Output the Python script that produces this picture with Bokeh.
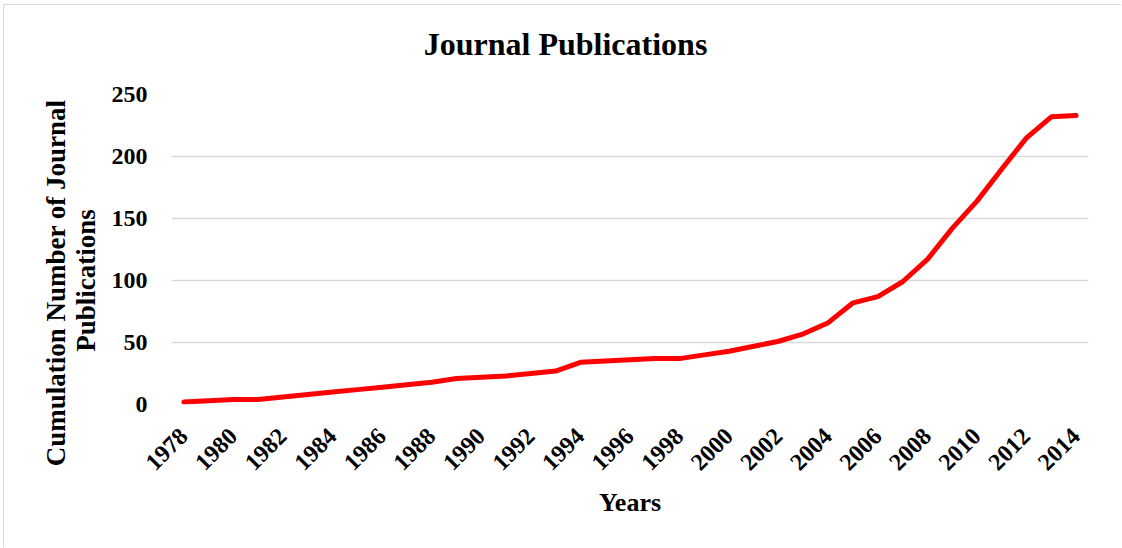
import math
from bokeh.plotting import figure
from bokeh.models import Range1d, FixedTicker, Label
from bokeh.embed import file_html
from bokeh.resources import INLINE

# ---- data ----
years = [1978, 1979, 1980, 1981, 1982, 1983, 1984, 1985, 1986, 1987,
         1988, 1989, 1990, 1991, 1992, 1993, 1994, 1995, 1996, 1997,
         1998, 1999, 2000, 2001, 2002, 2003, 2004, 2005, 2006, 2007,
         2008, 2009, 2010, 2011, 2012, 2013, 2014]
publications = [2, 3, 4, 4, 6, 8, 10, 12, 14, 16,
                18, 21, 22, 23, 25, 27, 34, 35, 36, 37,
                37, 40, 43, 47, 51, 57, 66, 82, 87, 99,
                117, 142, 164, 190, 215, 232, 233]
x_tick_years = [1978, 1980, 1982, 1984, 1986, 1988, 1990, 1992, 1994, 1996,
                1998, 2000, 2002, 2004, 2006, 2008, 2010, 2012, 2014]
y_ticks = [0, 50, 100, 150, 200, 250]

title_text = "Journal Publications"
x_title = "Years"
y_title_lines = ["Cumulation Number of Journal", "Publications"]

FONT = "Liberation Serif"

p = figure(width=1118, height=543, output_backend="svg", toolbar_location=None,
           x_range=Range1d(1977.5, 2014.5), y_range=Range1d(0, 250),
           min_border_left=167, min_border_right=34, min_border_top=89,
           min_border_bottom=144)
p.styles = {"margin-left": "3px", "margin-top": "4px",
            "border-left": "1px solid #d9d9d9", "border-top": "1px solid #d9d9d9"}
p.title.visible = False
p.outline_line_color = None
p.background_fill_color = "white"
p.border_fill_color = "white"

p.line(years, publications, line_color="#ff0000", line_width=5,
       line_cap="round", line_join="round")

p.xgrid.visible = False
p.ygrid.grid_line_color = "#d9d9d9"
p.ygrid.grid_line_width = 1.3

xa = p.xaxis[0]
xa.ticker = FixedTicker(ticks=x_tick_years)
xa.major_label_orientation = math.pi / 4
xa.major_label_text_font = FONT
xa.major_label_text_font_style = "bold"
xa.major_label_text_font_size = "24px"
xa.major_label_text_color = "black"
xa.major_tick_line_color = None
xa.minor_tick_line_color = None
xa.major_tick_in = 0
xa.major_tick_out = 0
xa.axis_line_color = None
xa.major_label_standoff = 28
xa.axis_label = x_title
xa.axis_label_text_font = FONT
xa.axis_label_text_font_style = "bold"
xa.axis_label_text_font_size = "26px"
xa.axis_label_text_color = "black"
xa.axis_label_standoff = 8

ya = p.yaxis[0]
ya.ticker = FixedTicker(ticks=y_ticks)
ya.major_label_text_font = FONT
ya.major_label_text_font_style = "bold"
ya.major_label_text_font_size = "24px"
ya.major_label_text_color = "black"
ya.major_tick_line_color = None
ya.minor_tick_line_color = None
ya.major_tick_in = 0
ya.major_tick_out = 0
ya.axis_line_color = None
ya.major_label_standoff = 24

p.add_layout(Label(x=1993.4, y=290.7, text=title_text, text_font=FONT,
                   text_font_style="bold", text_font_size="32px",
                   text_align="center", text_baseline="middle",
                   text_color="black"), "above")
p.add_layout(Label(x=1972.83, y=98.0, text=y_title_lines[0], angle=math.pi / 2,
                   text_font=FONT, text_font_style="bold", text_font_size="27px",
                   text_align="center", text_baseline="middle",
                   text_color="black"), "left")
p.add_layout(Label(x=1974.06, y=100.0, text=y_title_lines[1], angle=math.pi / 2,
                   text_font=FONT, text_font_style="bold", text_font_size="27px",
                   text_align="center", text_baseline="middle",
                   text_color="black"), "left")

open("out.html", "w").write(file_html(p, INLINE))
